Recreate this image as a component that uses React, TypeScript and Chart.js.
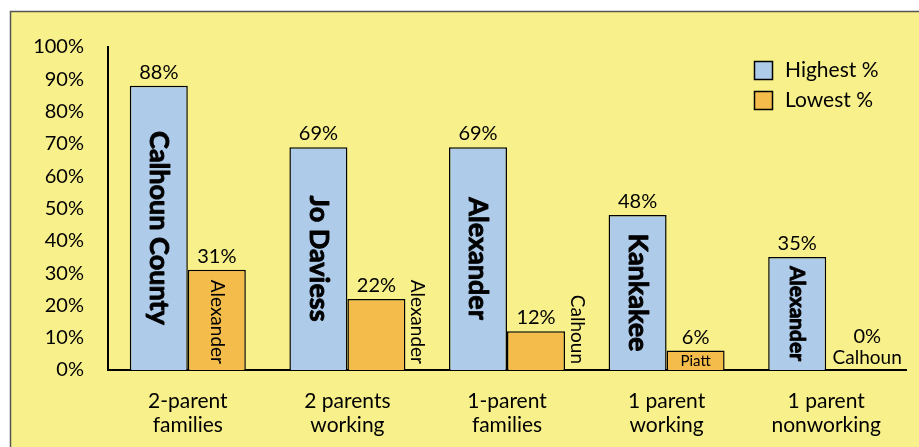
import React, { useEffect, useRef } from "react";
import { Chart, registerables } from "chart.js";
Chart.register(...registerables);

const categories = [
  ["2-parent", "families"],
  ["2 parents", "working"],
  ["1-parent", "families"],
  ["1 parent", "working"],
  ["1 parent", "nonworking"],
];
const highestValues = [88, 69, 69, 48, 35];
const lowestValues = [31, 22, 12, 6, 0];
const highestCounties = ["Calhoun County", "Jo Daviess", "Alexander", "Kankakee", "Alexander"];
const lowestCounties = ["Alexander", "Alexander", "Calhoun", "Piatt", "Calhoun"];
const lowestLabelPlacement = ["inside", "outside", "outside", "flat", "below"];
const seriesNames = ["Highest %", "Lowest %"];

const FONT = "Lato, 'DejaVu Sans', sans-serif";
const BLUE = "#aecbea";
const ORANGE = "#f4bd4b";
const YELLOW = "#f8f08a";

const backgroundPlugin = {
  id: "bgPanel",
  beforeDraw(chart: any) {
    const ctx = chart.ctx;
    ctx.save();
    ctx.fillStyle = "#ffffff";
    ctx.fillRect(0, 0, chart.width, chart.height);
    ctx.fillStyle = YELLOW;
    ctx.fillRect(10, 11, chart.width, chart.height);
    ctx.strokeStyle = "#555555";
    ctx.lineWidth = 1.5;
    ctx.strokeRect(10.5, 11.5, chart.width + 20, chart.height + 20);
    ctx.restore();
  },
};

const labelPlugin = {
  id: "barLabels",
  afterDatasetsDraw(chart: any) {
    const ctx = chart.ctx;
    ctx.save();
    ctx.fillStyle = "#000";
    ctx.strokeStyle = "#000";
    const m0 = chart.getDatasetMeta(0);
    const m1 = chart.getDatasetMeta(1);
    m0.data.forEach((bar: any, i: number) => {
      const { x, y, base } = bar.getProps(["x", "y", "base"], true);
      ctx.font = `20px ${FONT}`;
      ctx.textAlign = "center";
      ctx.textBaseline = "alphabetic";
      ctx.fillText(`${highestValues[i]}%`, x, y - 7);
      let size = 27;
      ctx.font = `bold ${size}px ${FONT}`;
      const w = ctx.measureText(highestCounties[i]).width;
      const avail = base - y - 18;
      if (w > avail) size = (size * avail) / w;
      ctx.font = `bold ${size}px ${FONT}`;
      ctx.save();
      ctx.translate(x, (y + base) / 2);
      ctx.rotate(Math.PI / 2);
      ctx.textAlign = "center";
      ctx.textBaseline = "middle";
      ctx.lineWidth = 0.9;
      ctx.lineJoin = "round";
      ctx.fillText(highestCounties[i], 0, 0);
      ctx.strokeText(highestCounties[i], 0, 0);
      ctx.restore();
    });
    m1.data.forEach((bar: any, i: number) => {
      const { x, y, base, width } = bar.getProps(["x", "y", "base", "width"], true);
      const place = lowestLabelPlacement[i];
      ctx.font = `20px ${FONT}`;
      ctx.textAlign = "center";
      ctx.textBaseline = "alphabetic";
      const vy = place === "below" ? base - 27 : y - 7;
      ctx.fillText(`${lowestValues[i]}%`, place === "below" ? x + 12 : x, vy);
      if (place === "inside" || place === "outside") {
        ctx.font = `19px ${FONT}`;
        ctx.save();
        const cx = place === "inside" ? x : x + width / 2 + 12;
        ctx.translate(cx, base - 6);
        ctx.rotate(Math.PI / 2);
        ctx.textAlign = "right";
        ctx.textBaseline = "middle";
        ctx.fillText(lowestCounties[i], 0, 0);
        ctx.restore();
      } else if (place === "flat") {
        ctx.font = `15px ${FONT}`;
        ctx.textAlign = "center";
        ctx.textBaseline = "middle";
        ctx.fillText(lowestCounties[i], x, (y + base) / 2 + 1);
      } else {
        ctx.font = `19px ${FONT}`;
        ctx.textAlign = "center";
        ctx.textBaseline = "middle";
        ctx.fillText(lowestCounties[i], x + 12, base - 12);
      }
    });
    // legend
    const colors = [BLUE, ORANGE];
    seriesNames.forEach((name, k) => {
      const by = 61 + k * 30;
      ctx.fillStyle = colors[k];
      ctx.fillRect(754.5, by + 0.5, 18, 18);
      ctx.strokeStyle = "#000";
      ctx.lineWidth = 1.5;
      ctx.strokeRect(754.5, by + 0.5, 18, 18);
      ctx.fillStyle = "#000";
      ctx.font = `21px ${FONT}`;
      ctx.textAlign = "left";
      ctx.textBaseline = "middle";
      ctx.fillText(name, 785, by + 9.5);
    });
    ctx.restore();
  },
};

export default function App() {
  const ref = useRef<HTMLCanvasElement>(null);
  useEffect(() => {
    if (!ref.current) return;
    const chart = new Chart(ref.current, {
      type: "bar",
      data: {
        labels: categories,
        datasets: [
          {
            label: seriesNames[0],
            data: highestValues,
            backgroundColor: BLUE,
            borderColor: "#000",
            borderWidth: 1.5,
            categoryPercentage: 0.727,
            barPercentage: 1,
          },
          {
            label: seriesNames[1],
            data: lowestValues,
            backgroundColor: ORANGE,
            borderColor: "#000",
            borderWidth: 1.5,
            categoryPercentage: 0.727,
            barPercentage: 1,
          },
        ],
      },
      options: {
        animation: false,
        responsive: true,
        maintainAspectRatio: false,
        layout: { padding: { top: 47, right: 13, left: 0, bottom: 0 } },
        plugins: { legend: { display: false }, tooltip: { enabled: false } },
        scales: {
          x: {
            grid: { display: false, drawTicks: false },
            border: { display: true, color: "#000", width: 2 },
            ticks: {
              color: "#000",
              font: { family: FONT, size: 21, lineHeight: 1.15 },
              padding: 19,
              maxRotation: 0,
            },
            afterFit(scale: any) {
              scale.height = 77;
            },
          },
          y: {
            min: 0,
            max: 100,
            grid: { display: false, drawTicks: false },
            border: { display: true, color: "#000", width: 2 },
            ticks: {
              stepSize: 10,
              color: "#000",
              font: { family: FONT, size: 20 },
              padding: 24,
              callback: (v: any) => `${v}%`,
            },
            afterFit(scale: any) {
              scale.width = 108;
            },
          },
        },
      },
      plugins: [backgroundPlugin, labelPlugin],
    });
    return () => chart.destroy();
  }, []);
  return (
    <div style={{ position: "absolute", left: 0, top: 0, width: 919, height: 447 }}>
      <canvas ref={ref} />
    </div>
  );
}
